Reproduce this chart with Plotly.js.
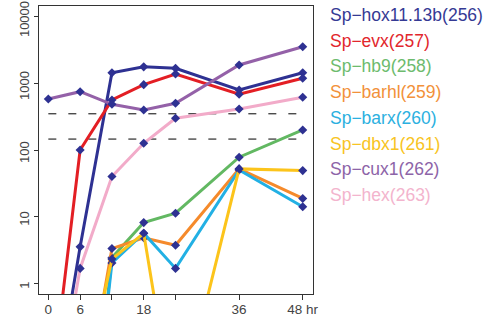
<!DOCTYPE html>
<html>
<head>
<meta charset="utf-8">
<script src="https://cdn.plot.ly/plotly-3.0.1.min.js"></script>
<style>html,body{margin:0;padding:0;background:#fff;}#chart{width:490px;height:322px;}</style>
</head>
<body>
<div id="chart"></div>
<script>
// time points (hours)
const hours = [0, 6, 12, 18, 24, 36, 48];
const xTickVals = [0, 6, 12, 18, 24, 36, 48];
const xTickText = ["0", "6", "", "18", "", "36", "48 hr"];
const yTickVals = [1, 10, 100, 1000, 10000];
const yTickText = ["1", "10", "100", "1000", "10000"];
const thresholds = [350, 146];

const seriesNames = ["Sp\u2212hox11.13b(256)", "Sp\u2212evx(257)", "Sp\u2212hb9(258)", "Sp\u2212barhl(259)",
                     "Sp\u2212barx(260)", "Sp\u2212dbx1(261)", "Sp\u2212cux1(262)", "Sp\u2212hex(263)"];
const hox   = [0.005, 3.5, 1450, 1780, 1690, 800, 1450];
const evx   = [0.01, 100, 565, 960, 1390, 690, 1200];
const hb9   = [0.0001, 0.0001, 2.4, 8.1, 11.2, 78, 200];
const barhl = [0.006, 0.006, 3.3, 4.8, 3.7, 52, 18.7];
const barx  = [0.0001, 0.0001, 2.0, 5.6, 1.66, 50, 14];
const dbx1  = [0.015, 0.015, 2.3, 5.6, 0.007, 52, 49];
const cux1  = [585, 753, 487, 400, 505, 1900, 3570];
const hex   = [0.003, 1.66, 40, 126, 300, 414, 620];

const seriesValues = [hox, evx, hb9, barhl, barx, dbx1, cux1, hex];
const lineColors = ["#2e3192", "#e31e24", "#62b862", "#f58a2b", "#22b0e4", "#fcc41b", "#9461a8", "#f2abc9"];
const textColors = ["#353a94", "#e2262c", "#6dbb6d", "#f2913a", "#2bb0e0", "#f8c423", "#8d64a8", "#f3b4cd"];
const markerColor = "#2e3192";

const traces = [];
thresholds.forEach(v => {
  traces.push({
    x: [hours[0], hours[hours.length - 1]], y: [v, v],
    mode: "lines", line: {color: "#000", width: 1, dash: "8px,12px"},
    hoverinfo: "skip", showlegend: false
  });
});
seriesValues.forEach((vals, i) => {
  traces.push({
    x: hours, y: vals, name: seriesNames[i],
    mode: "lines+markers",
    line: {color: lineColors[i], width: 3},
    marker: {symbol: "diamond", size: 7, color: markerColor},
    showlegend: false
  });
});

const plotLeft = 39, plotRight = 313, plotTop = 6, plotBottom = 294;
const plotH = plotBottom - plotTop, plotW = plotRight - plotLeft;
const annotations = seriesNames.map((n, i) => ({
  text: n, xref: "paper", yref: "paper",
  x: (328 - plotLeft) / plotW, y: (plotBottom - (15 + 25.7 * i)) / plotH,
  xanchor: "left", yanchor: "middle", showarrow: false,
  font: {family: "Liberation Sans, Arial, sans-serif", size: 17.5, color: textColors[i]}
}));

const layout = {
  width: 490, height: 322,
  margin: {l: plotLeft, r: 490 - plotRight, t: plotTop, b: 322 - plotBottom, pad: 0},
  paper_bgcolor: "#fff", plot_bgcolor: "#fff",
  font: {family: "Liberation Sans, Arial, sans-serif", size: 13.5, color: "#333"},
  showlegend: false,
  xaxis: {
    range: [-1.76, 49.94], tickmode: "array", tickvals: xTickVals, ticktext: xTickText,
    ticks: "outside", ticklen: 5, tickwidth: 1, tickcolor: "#333",
    showline: true, mirror: true, linecolor: "#333", linewidth: 1.3,
    showgrid: false, zeroline: false, tickfont: {size: 13.5, color: "#444"},
    ticklabelstandoff: -3
  },
  yaxis: {
    type: "log", range: [-0.165, 4.165], tickmode: "array", tickvals: yTickVals,
    ticktext: yTickText,
    ticks: "outside", ticklen: 4, tickwidth: 1, tickcolor: "#333", tickangle: -90,
    showline: true, mirror: true, linecolor: "#333", linewidth: 1.3,
    showgrid: false, zeroline: false, tickfont: {size: 13, color: "#444"},
    ticklabeloverflow: "allow", ticklabelshift: 4
  },
  annotations: annotations
};

Plotly.newPlot("chart", traces, layout, {displayModeBar: false, staticPlot: true});
</script>
</body>
</html>
